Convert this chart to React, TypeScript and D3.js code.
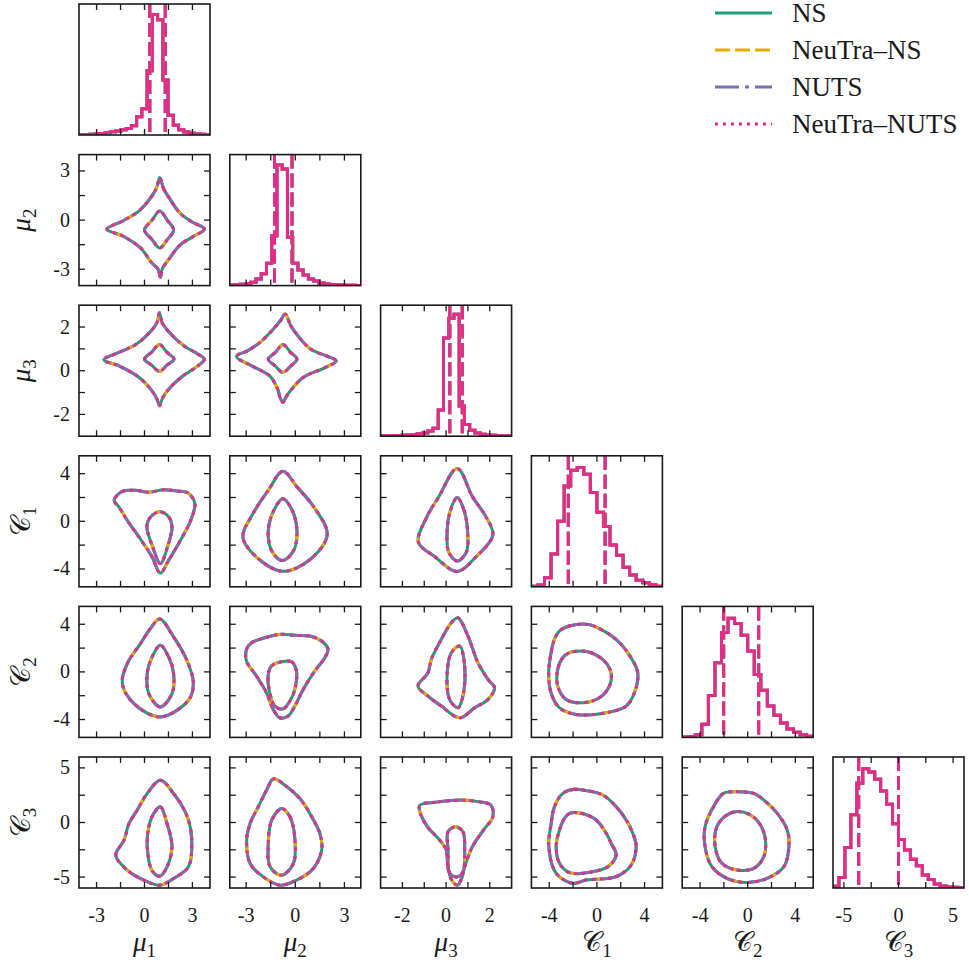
import React from "react";
import * as d3 from "d3";

// figure geometry
const W = 969;
const H = 962;
const LEFT0 = 79;
const TOP0 = 4;
const STEP_X = 150.8;
const STEP_Y = 150.6;
const SIZE = 131;
const FONT = "'Liberation Serif', 'DejaVu Serif', serif";

const METHODS = ["NS", "NeuTra–NS", "NUTS", "NeuTra–NUTS"];
const COLORS = ["#1b9e77", "#e6ab02", "#7570b3", "#e7298a"];
const DASHES = ["", "15,5", "24,6,4,6", "3,5"];

const SYMBOLS = ["μ", "μ", "μ", "𝒞", "𝒞", "𝒞"];
const SUBS = ["1", "2", "3", "1", "2", "3"];
const RANGES: [number, number][] = [
  [-4.1, 4.1],
  [-4, 4],
  [-3, 3],
  [-5.5, 5.5],
  [-5.5, 5.5],
  [-6, 6],
];
const TICKS = [
  [-3, -1.5, 0, 1.5, 3],
  [-3, -1.5, 0, 1.5, 3],
  [-2, -1, 0, 1, 2],
  [-4, -2, 0, 2, 4],
  [-4, -2, 0, 2, 4],
  [-5, -2.5, 0, 2.5, 5],
];
const TICK_LABELS = [
  [-3, 0, 3],
  [-3, 0, 3],
  [-2, 0, 2],
  [-4, 0, 4],
  [-4, 0, 4],
  [-5, 0, 5],
];

// 1D marginals: first bin edge, bin width, heights
const HIST_START = [-4.1, -4, -3, -5.5, -5.5, -6];
const HIST_BIN = [0.328, 0.32, 0.24, 0.55, 0.55, 0.5455];
const HIST_MU1 = [0.3, 0.4, 0.6, 0.8, 1.2, 1.8, 2.5, 3, 4, 5, 7, 14, 20, 49, 92, 88, 42, 15, 7.5, 4, 2.2, 1.3, 0.8, 0.5, 0.3];
const HIST_MU2 = [0.5, 0.7, 1, 1.5, 2.5, 5, 9, 17, 38, 92, 89, 37, 17, 12, 8, 5, 3.5, 2, 1.2, 0.8, 0.6, 0.4, 0.3, 0.2, 0.1];
const HIST_MU3 = [0.3, 0.4, 0.5, 0.6, 0.8, 1, 1.3, 1.8, 2.5, 4, 6, 20, 75, 90, 93, 23, 9, 4.5, 2.5, 1.5, 1, 0.7, 0.5, 0.4, 0.3];
const HIST_C1 = [0.5, 1.3, 7, 25, 50, 77, 89, 91, 86, 72, 57, 46, 32, 24, 15, 9, 5, 3, 1.5, 0.5];
const HIST_C2 = [0.4, 0.6, 2, 10, 32, 57, 80, 91, 87, 78, 66, 48, 36, 24, 17, 11, 6.5, 4, 2, 0.8];
const HIST_C3 = [1.3, 8, 31, 56, 80, 91, 88.5, 83, 74, 64, 49, 37, 29, 22, 17, 10, 6.4, 3, 1.5, 0.8, 0.5, 0.3];
const HISTS = [HIST_MU1, HIST_MU2, HIST_MU3, HIST_C1, HIST_C2, HIST_C3];
const QUANTILES = [
  [0.33, 1.3],
  [-1.27, -0.2],
  [0.17, 0.74],
  [-2.4, 0.69],
  [-2.02, 0.92],
  [-3.65, 0],
];

// 2D credible contours, [x, y] in data units
const MU2_MU1_OUT = [[0.95, 2.6], [1.2, 1.9], [1.55, 1.35], [2.2, 0.45], [2.95, -0.1], [3.75, -0.55], [3.05, -1.0], [2.25, -1.5], [1.55, -2.35], [1.1, -3.0], [1.0, -3.5], [0.85, -3.0], [0.45, -2.6], [-0.25, -1.7], [-1.3, -1.0], [-2.35, -0.55], [-1.3, -0.02], [-0.3, 0.6], [0.55, 1.6], [0.8, 2.1]];
const MU2_MU1_IN = [[0.95, 0.55], [1.42, 0.0], [1.82, -0.6], [1.42, -1.2], [0.95, -1.7], [0.48, -1.2], [0.0, -0.6], [0.48, 0.0]];
const MU3_MU1_OUT = [[0.94, 2.65], [1.1, 2.2], [1.5, 1.8], [2.45, 1.15], [3.3, 0.78], [3.75, 0.53], [3.4, 0.25], [2.3, -0.3], [1.45, -0.9], [1.1, -1.3], [0.94, -1.6], [0.78, -1.3], [0.45, -0.9], [-0.35, -0.3], [-1.6, 0.22], [-2.55, 0.5], [-1.6, 0.84], [-0.55, 1.2], [0.38, 1.8], [0.78, 2.2]];
const MU3_MU1_IN = [[0.94, 1.2], [1.4, 0.85], [1.84, 0.53], [1.4, 0.25], [0.94, -0.03], [0.45, 0.25], [0.0, 0.53], [0.45, 0.85]];
const MU3_MU2_OUT = [[-0.62, 2.6], [-0.3, 2.1], [-0.05, 1.8], [0.95, 0.98], [1.9, 0.68], [2.5, 0.45], [1.75, 0.12], [0.5, -0.3], [-0.3, -0.92], [-0.6, -1.25], [-0.76, -1.45], [-0.95, -1.2], [-1.05, -0.9], [-1.55, -0.25], [-2.6, 0.2], [-3.6, 0.65], [-2.9, 0.92], [-2.15, 1.3], [-1.35, 1.9], [-0.9, 2.3]];
const MU3_MU2_IN = [[-0.76, 1.2], [-0.3, 0.85], [0.1, 0.53], [-0.3, 0.2], [-0.76, -0.08], [-1.2, 0.2], [-1.65, 0.53], [-1.2, 0.85]];
const C1_MU1_OUT = [[-1.9, 1.75], [-1.4, 2.5], [-0.6, 2.6], [0.3, 2.45], [1.2, 2.65], [2.0, 2.55], [2.7, 2.4], [3.15, 1.5], [2.9, 0.1], [2.25, -1.6], [1.5, -3.3], [0.99, -4.35], [0.48, -3.0], [-0.25, -1.5], [-1.08, 0.08], [-1.6, 1.2]];
const C1_MU1_IN = [[0.99, 0.8], [1.55, 0.3], [1.72, -0.5], [1.45, -2.1], [0.99, -3.55], [0.5, -2.1], [0.15, -0.4], [0.42, 0.42]];
const C1_MU2_OUT = [[-0.76, 4.2], [0.1, 2.9], [1.13, 1.2], [1.95, -1.1], [0.95, -3.15], [-0.76, -4.2], [-2.37, -3.0], [-3.2, -1.32], [-2.58, 0.65], [-1.65, 2.6]];
const C1_MU2_IN = [[-0.76, 1.9], [-0.2, 0.95], [0.1, -0.76], [-0.1, -2.45], [-0.8, -3.3], [-1.45, -2.45], [-1.65, -0.76], [-1.3, 0.95]];
const C1_MU3_OUT = [[0.51, 4.44], [1.21, 2.05], [1.83, 0.37], [2.14, -1.18], [1.36, -3.0], [0.51, -4.21], [-0.5, -3.0], [-1.27, -1.74], [-0.88, 0.37], [-0.34, 2.05]];
const C1_MU3_IN = [[0.51, 1.99], [0.82, 0.93], [0.98, -0.76], [0.93, -2.58], [0.51, -3.34], [0.12, -2.58], [0.05, -0.76], [0.2, 0.93]];
const C2_MU1_OUT = [[0.95, 4.45], [1.82, 2.94], [2.65, 0.98], [3.06, -0.98], [2.75, -2.38], [0.99, -3.78], [-0.66, -2.66], [-1.39, -0.98], [-1.08, 0.7], [-0.25, 2.38], [0.37, 3.64]];
const C2_MU1_IN = [[0.99, 2.24], [1.51, 1.26], [1.82, -0.14], [1.72, -1.82], [0.99, -2.94], [0.27, -1.82], [0.17, -0.14], [0.48, 1.26]];
const C2_MU2_OUT = [[-2.98, 1.89], [-2.67, 2.45], [-1.86, 2.87], [-0.95, 3.15], [-0.03, 3.07], [0.89, 3.01], [1.6, 2.59], [2.0, 1.89], [1.8, 1.19], [1.19, 0.07], [0.48, -1.47], [-0.03, -2.87], [-0.44, -3.71], [-0.95, -3.85], [-1.35, -3.15], [-1.76, -1.75], [-2.37, -0.35], [-2.98, 0.91]];
const C2_MU2_IN = [[-0.84, 0.85], [-0.23, 0.85], [0.07, 0.07], [-0.03, -1.47], [-0.33, -2.45], [-0.74, -3.1], [-1.25, -2.87], [-1.56, -1.75], [-1.66, -0.35], [-1.46, 0.49]];
const C2_MU3_OUT = [[0.54, 4.55], [1.0, 3.01], [1.46, 0.77], [1.92, -0.63], [2.22, -1.33], [1.92, -2.31], [1.31, -3.01], [0.62, -3.85], [-0.22, -2.87], [-0.83, -2.03], [-1.29, -1.19], [-0.83, -0.07], [-0.68, 1.05], [-0.22, 2.73], [0.24, 4.13]];
const C2_MU3_IN = [[0.62, 2.17], [0.85, 0.49], [0.77, -2.03], [0.54, -3.01], [0.16, -2.31], [0.05, -0.07], [0.24, 1.61]];
const C2_C1_OUT = [[-3.15, 3.43], [-2.31, 3.85], [-0.77, 3.99], [0.35, 3.57], [1.61, 2.73], [2.59, 1.61], [3.43, -0.07], [3.15, -1.75], [2.45, -2.87], [0.77, -3.43], [-1.75, -3.57], [-3.15, -3.01], [-3.85, -1.75], [-4.05, -0.07], [-3.85, 1.61], [-3.57, 2.73]];
const C2_C1_IN = [[-1.47, 1.75], [-0.49, 1.61], [0.63, 0.91], [1.19, -0.07], [1.05, -1.19], [0.21, -2.17], [-1.19, -2.59], [-2.59, -2.31], [-3.29, -1.19], [-3.29, 0.21], [-2.87, 1.19], [-2.31, 1.61]];
const C3_MU1_OUT = [[0.99, 3.88], [1.82, 2.66], [2.55, 0.98], [2.86, -0.4], [2.96, -2.23], [2.75, -4.06], [1.82, -5.13], [0.95, -5.74], [-0.04, -5.28], [-1.08, -4.37], [-1.8, -2.99], [-1.28, -1.62], [-0.97, -0.09], [-0.46, 1.13], [0.17, 2.66]];
const C3_MU1_IN = [[0.99, 1.44], [1.41, -0.09], [1.72, -2.23], [1.41, -4.06], [0.95, -4.92], [0.48, -4.43], [0.17, -2.23], [0.27, -0.4], [0.58, 0.82]];
const C3_MU2_OUT = [[-1.34, 4.0], [-0.63, 3.42], [0.28, 2.2], [0.89, 0.82], [1.5, -1.0], [1.61, -2.53], [1.1, -4.21], [0.08, -5.28], [-0.93, -5.74], [-1.95, -4.98], [-2.76, -3.76], [-2.97, -1.62], [-2.76, -0.09], [-2.26, 1.44], [-1.75, 2.97]];
const C3_MU2_IN = [[-0.83, 1.28], [-0.33, 0.52], [-0.02, -1.62], [-0.12, -3.76], [-0.83, -4.83], [-1.54, -4.06], [-1.65, -1.93], [-1.44, 0.21]];
const C3_MU3_OUT = [[-1.2, 1.59], [-0.34, 1.89], [0.68, 2.05], [1.54, 1.89], [2.05, 1.59], [2.14, 0.52], [1.71, -0.7], [1.2, -2.23], [0.85, -4.06], [0.68, -5.28], [0.51, -5.74], [0.26, -5.28], [0.09, -4.2], [0.0, -2.5], [-0.3, -1.6], [-0.85, -0.4], [-1.2, 0.98]];
const C3_MU3_IN = [[0.43, -0.4], [0.77, -0.85], [0.85, -2.53], [0.77, -4.52], [0.51, -4.98], [0.17, -4.67], [0.09, -2.53], [0.09, -0.85]];
const C3_C1_OUT = [[-2.86, 2.67], [-1.88, 3.04], [-0.9, 2.92], [0.5, 2.52], [1.62, 1.45], [2.46, 0.23], [3.02, -1.0], [3.3, -2.2], [2.88, -3.89], [1.62, -4.96], [-0.9, -5.27], [-2.02, -5.57], [-3.42, -4.66], [-4.04, -2.21], [-3.84, -0.08], [-3.56, 1.45]];
const C3_C1_IN = [[-2.3, 0.84], [-1.32, 0.84], [-0.06, 0.23], [0.78, -0.99], [1.2, -1.91], [1.62, -2.98], [0.92, -4.05], [-0.34, -4.5], [-2.3, -4.6], [-3.14, -3.74], [-3.42, -2.21], [-3.14, -0.69], [-2.72, 0.38]];
const C3_C2_OUT = [[-0.9, 2.82], [-2.03, 2.67], [-2.87, 1.45], [-3.58, -0.38], [-3.58, -2.21], [-3.01, -4.05], [-1.75, -5.11], [-0.06, -5.5], [1.63, -5.11], [3.04, -4.05], [3.46, -2.21], [3.32, -0.69], [2.48, 0.84], [1.35, 2.06], [0.51, 2.67]];
const C3_C2_IN = [[-0.9, 1.0], [-1.75, 0.69], [-2.59, -0.38], [-2.73, -2.21], [-2.17, -3.74], [-0.9, -4.35], [0.51, -4.2], [1.35, -3.13], [1.49, -1.6], [1.07, -0.23], [0.23, 0.69]];

const PAIRS = [
  { row: 1, col: 0, levels: [MU2_MU1_IN, MU2_MU1_OUT] },
  { row: 2, col: 0, levels: [MU3_MU1_IN, MU3_MU1_OUT] },
  { row: 2, col: 1, levels: [MU3_MU2_IN, MU3_MU2_OUT] },
  { row: 3, col: 0, levels: [C1_MU1_IN, C1_MU1_OUT] },
  { row: 3, col: 1, levels: [C1_MU2_IN, C1_MU2_OUT] },
  { row: 3, col: 2, levels: [C1_MU3_IN, C1_MU3_OUT] },
  { row: 4, col: 0, levels: [C2_MU1_IN, C2_MU1_OUT] },
  { row: 4, col: 1, levels: [C2_MU2_IN, C2_MU2_OUT] },
  { row: 4, col: 2, levels: [C2_MU3_IN, C2_MU3_OUT] },
  { row: 4, col: 3, levels: [C2_C1_IN, C2_C1_OUT] },
  { row: 5, col: 0, levels: [C3_MU1_IN, C3_MU1_OUT] },
  { row: 5, col: 1, levels: [C3_MU2_IN, C3_MU2_OUT] },
  { row: 5, col: 2, levels: [C3_MU3_IN, C3_MU3_OUT] },
  { row: 5, col: 3, levels: [C3_C1_IN, C3_C1_OUT] },
  { row: 5, col: 4, levels: [C3_C2_IN, C3_C2_OUT] },
];

const N = 6;
const INK = "#1a1a1a";
const TICK_LEN = 6;

function AxisLabel({ idx, x, y, rotate }: { idx: number; x: number; y: number; rotate?: boolean }) {
  return (
    <text
      transform={`translate(${x},${y})${rotate ? " rotate(-90)" : ""}`}
      textAnchor="middle"
      fontFamily={FONT}
      fontSize={27}
      fill={INK}
    >
      <tspan fontStyle={idx < 3 ? "italic" : "normal"}>{SYMBOLS[idx]}</tspan>
      <tspan fontSize={19} dy={6}>
        {SUBS[idx]}
      </tspan>
    </text>
  );
}

function Frame({ row, col, sideTicks }: { row: number; col: number; sideTicks: boolean }) {
  const x = d3.scaleLinear().domain(RANGES[col]).range([0, SIZE]);
  const y = d3.scaleLinear().domain(RANGES[row]).range([SIZE, 0]);
  return (
    <g>
      {TICKS[col].map((t) => (
        <g key={"x" + t}>
          <line x1={x(t)} x2={x(t)} y1={SIZE} y2={SIZE - TICK_LEN} stroke={INK} strokeWidth={1.3} />
          <line x1={x(t)} x2={x(t)} y1={0} y2={TICK_LEN} stroke={INK} strokeWidth={1.3} />
        </g>
      ))}
      {sideTicks &&
        TICKS[row].map((t) => (
          <g key={"y" + t}>
            <line x1={0} x2={TICK_LEN} y1={y(t)} y2={y(t)} stroke={INK} strokeWidth={1.3} />
            <line x1={SIZE} x2={SIZE - TICK_LEN} y1={y(t)} y2={y(t)} stroke={INK} strokeWidth={1.3} />
          </g>
        ))}
      <rect x={0} y={0} width={SIZE} height={SIZE} fill="none" stroke={INK} strokeWidth={1.6} />
    </g>
  );
}

function PairPanel({ row, col, levels }: { row: number; col: number; levels: number[][][] }) {
  const x = d3.scaleLinear().domain(RANGES[col]).range([0, SIZE]);
  const y = d3.scaleLinear().domain(RANGES[row]).range([SIZE, 0]);
  const path = d3
    .line<number[]>()
    .x((d) => x(d[0]))
    .y((d) => y(d[1]))
    .curve(d3.curveCatmullRomClosed.alpha(0.5));
  const id = `clip-${row}-${col}`;
  return (
    <g transform={`translate(${LEFT0 + col * STEP_X},${TOP0 + row * STEP_Y})`}>
      <clipPath id={id}>
        <rect x={0} y={0} width={SIZE} height={SIZE} />
      </clipPath>
      <g clipPath={`url(#${id})`}>
        {COLORS.map((c, m) =>
          levels.map((lv, k) => (
            <path
              key={m + "-" + k}
              d={path(lv) ?? undefined}
              fill="none"
              stroke={c}
              strokeWidth={3}
              strokeDasharray={DASHES[m] || undefined}
              strokeLinejoin="round"
            />
          ))
        )}
      </g>
      <Frame row={row} col={col} sideTicks />
    </g>
  );
}

function HistPanel({ idx }: { idx: number }) {
  const x = d3.scaleLinear().domain(RANGES[idx]).range([0, SIZE]);
  const y = d3.scaleLinear().domain([0, 100]).range([SIZE, 0]);
  const vals = HISTS[idx];
  const pts: [number, number][] = [[HIST_START[idx], 0]];
  vals.forEach((v, i) => {
    const a = HIST_START[idx] + i * HIST_BIN[idx];
    pts.push([a, v], [a + HIST_BIN[idx], v]);
  });
  pts.push([HIST_START[idx] + vals.length * HIST_BIN[idx], 0]);
  const step = d3
    .line<[number, number]>()
    .x((d) => x(d[0]))
    .y((d) => y(d[1]));
  const id = `clip-h-${idx}`;
  return (
    <g transform={`translate(${LEFT0 + idx * STEP_X},${TOP0 + idx * STEP_Y})`}>
      <clipPath id={id}>
        <rect x={0} y={0} width={SIZE} height={SIZE} />
      </clipPath>
      <g clipPath={`url(#${id})`}>
        {COLORS.map((c, m) => (
          <path key={"h" + m} d={step(pts) ?? undefined} fill="none" stroke={c} strokeWidth={3} strokeLinejoin="miter" />
        ))}
        {COLORS.map((c, m) =>
          QUANTILES[idx].map((q, k) => (
            <line key={"q" + m + k} x1={x(q)} x2={x(q)} y1={0} y2={SIZE} stroke={c} strokeWidth={3} strokeDasharray="14,5" />
          ))
        )}
      </g>
      <Frame row={idx} col={idx} sideTicks={false} />
    </g>
  );
}

function Legend() {
  const x0 = 715;
  const len = 57;
  return (
    <g>
      {METHODS.map((name, m) => {
        const cy = 13 + m * 37;
        return (
          <g key={name}>
            <line x1={x0} x2={x0 + len} y1={cy} y2={cy} stroke={COLORS[m]} strokeWidth={3} strokeDasharray={DASHES[m] || undefined} />
            <text x={792} y={cy + 9} fontFamily={FONT} fontSize={27} fill={INK}>
              {name}
            </text>
          </g>
        );
      })}
    </g>
  );
}

export default function App() {
  const bottom = TOP0 + (N - 1) * STEP_Y + SIZE;
  return (
    <svg width={W} height={H} style={{ position: "absolute", left: 0, top: 0, background: "#fff" }}>
      <rect width={W} height={H} fill="#fff" />
      {PAIRS.map((p) => (
        <PairPanel key={p.row + "-" + p.col} row={p.row} col={p.col} levels={p.levels} />
      ))}
      {d3.range(N).map((i) => (
        <HistPanel key={"hist" + i} idx={i} />
      ))}
      {/* bottom tick labels and axis names */}
      {d3.range(N).map((c) => {
        const x = d3.scaleLinear().domain(RANGES[c]).range([0, SIZE]);
        const left = LEFT0 + c * STEP_X;
        return (
          <g key={"bx" + c}>
            {TICK_LABELS[c].map((t) => (
              <text key={t} x={left + x(t)} y={bottom + 34} textAnchor="middle" fontFamily={FONT} fontSize={20} fill={INK}>
                {String(t)}
              </text>
            ))}
            <AxisLabel idx={c} x={left + SIZE / 2} y={bottom + 63} />
          </g>
        );
      })}
      {/* left tick labels and axis names */}
      {d3.range(1, N).map((r) => {
        const y = d3.scaleLinear().domain(RANGES[r]).range([SIZE, 0]);
        const top = TOP0 + r * STEP_Y;
        return (
          <g key={"ly" + r}>
            {TICK_LABELS[r].map((t) => (
              <text key={t} x={LEFT0 - 9} y={top + y(t) + 6.5} textAnchor="end" fontFamily={FONT} fontSize={20} fill={INK}>
                {String(t)}
              </text>
            ))}
            <AxisLabel idx={r} x={30} y={top + SIZE / 2} rotate />
          </g>
        );
      })}
      <Legend />
    </svg>
  );
}
